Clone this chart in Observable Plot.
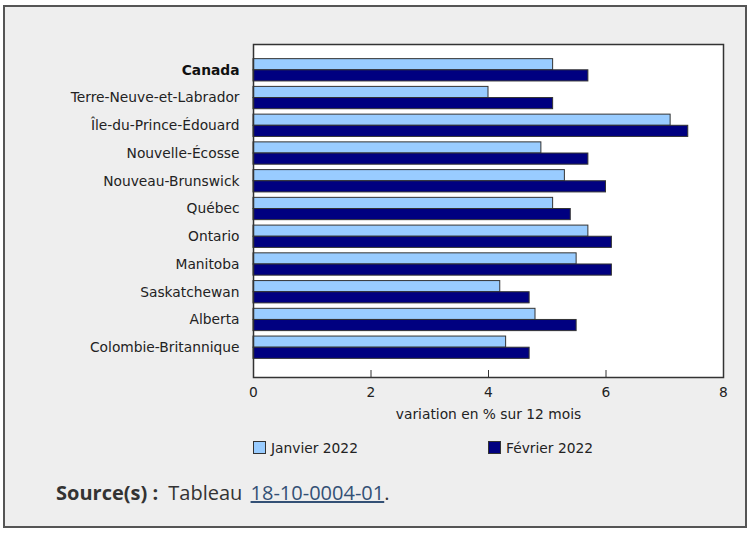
<!DOCTYPE html>
<html>
<head>
<meta charset="utf-8">
<script src="https://cdn.jsdelivr.net/npm/d3@7"></script>
<script src="https://cdn.jsdelivr.net/npm/@observablehq/plot@0.6"></script>
<style>
  html, body { margin: 0; padding: 0; background: #ffffff; }
  #wrap { position: relative; width: 749px; height: 535px; overflow: hidden; }
  #box { position: absolute; left: 3px; top: 5px; width: 744px; height: 523px; box-sizing: border-box;
         border: 2px solid #555; background: #eeeeee; }
  #chart { position: absolute; left: 0; top: 0; }
  .leg { position: absolute; font-family: "DejaVu Sans", sans-serif; font-size: 13.8px; color: #222; line-height: 14px; }
  .sw { position: absolute; width: 13px; height: 13px; box-sizing: border-box; border: 1px solid #333; }
  #source { position: absolute; left: 56px; top: 479px; font-family: "Open Sans", sans-serif; font-size: 20px; color: #333; white-space: nowrap; }
  #source b { font-weight: 700; margin-right: 5px; }
  #source .t { margin-right: 3px; }
  #source a { color: #335075; text-decoration: underline; }
</style>
</head>
<body>
<div id="wrap">
  <div id="box"></div>
  <div id="chart"></div>
  <div id="legend"></div>
  <div id="source"><b>Source(s) :</b> <span class="t">Tableau</span> <a href="#">18-10-0004-01</a>.</div>
</div>
<script>
const regions = ["Canada", "Terre-Neuve-et-Labrador", "Île-du-Prince-Édouard", "Nouvelle-Écosse", "Nouveau-Brunswick", "Québec", "Ontario", "Manitoba", "Saskatchewan", "Alberta", "Colombie-Britannique"];
const janvier = [5.1, 4.0, 7.1, 4.9, 5.3, 5.1, 5.7, 5.5, 4.2, 4.8, 4.3];
const fevrier = [5.7, 5.1, 7.4, 5.7, 6.0, 5.4, 6.1, 6.1, 4.7, 5.5, 4.7];
const xTicks = [0, 2, 4, 6, 8];
const seriesNames = ["Janvier 2022", "Février 2022"];
const seriesColors = ["#99ccff", "#000080"];
const xTitle = "variation en % sur 12 mois";

const rows = regions.map((r, i) => ({region: r, jan: janvier[i], feb: fevrier[i]}));
const half = 11.15;

const chart = Plot.plot({
  width: 749,
  height: 432,
  marginLeft: 253,
  marginRight: 26,
  marginTop: 44,
  marginBottom: 55,
  style: {background: "transparent", fontFamily: "DejaVu Sans, sans-serif", fontSize: "13.8px", color: "#222"},
  x: {domain: [0, 8], ticks: xTicks, label: null},
  y: {domain: regions, paddingInner: 0.196, paddingOuter: 0.6, align: 0.44, round: false, label: null},
  marks: [
    Plot.frame({fill: "white"}),
    Plot.barX(rows, {x: "jan", y: "region", fill: seriesColors[0], stroke: "#333", strokeWidth: 1, insetBottom: half}),
    Plot.barX(rows, {x: "feb", y: "region", fill: seriesColors[1], stroke: "#333", strokeWidth: 1, insetTop: half}),
    Plot.tickX(xTicks, {x: d => d, stroke: "#333", strokeWidth: 1, insetTop: 326}),
    Plot.frame({stroke: "#333", strokeWidth: 1.5}),
    Plot.axisX({ticks: xTicks, tickSize: 0, tickPadding: 10, label: null, fill: "#222"}),
    Plot.axisY({ticks: regions.slice(0, 1), tickSize: 0, tickPadding: 14, fontWeight: "bold", label: null, fill: "#111"}),
    Plot.axisY({ticks: regions.slice(1), tickSize: 0, tickPadding: 14, label: null, fill: "#222"}),
    Plot.text([xTitle], {frameAnchor: "bottom", dy: 41, text: d => d, fill: "#222"})
  ]
});
document.getElementById("chart").append(chart);

const legend = document.getElementById("legend");
const legX = [253, 488];
seriesNames.forEach((name, i) => {
  const sw = document.createElement("div");
  sw.className = "sw";
  sw.style.left = legX[i] + "px";
  sw.style.top = "441px";
  sw.style.background = seriesColors[i];
  legend.append(sw);
  const t = document.createElement("div");
  t.className = "leg";
  t.style.left = (legX[i] + 18) + "px";
  t.style.top = "441px";
  t.textContent = name;
  legend.append(t);
});
</script>
</body>
</html>
